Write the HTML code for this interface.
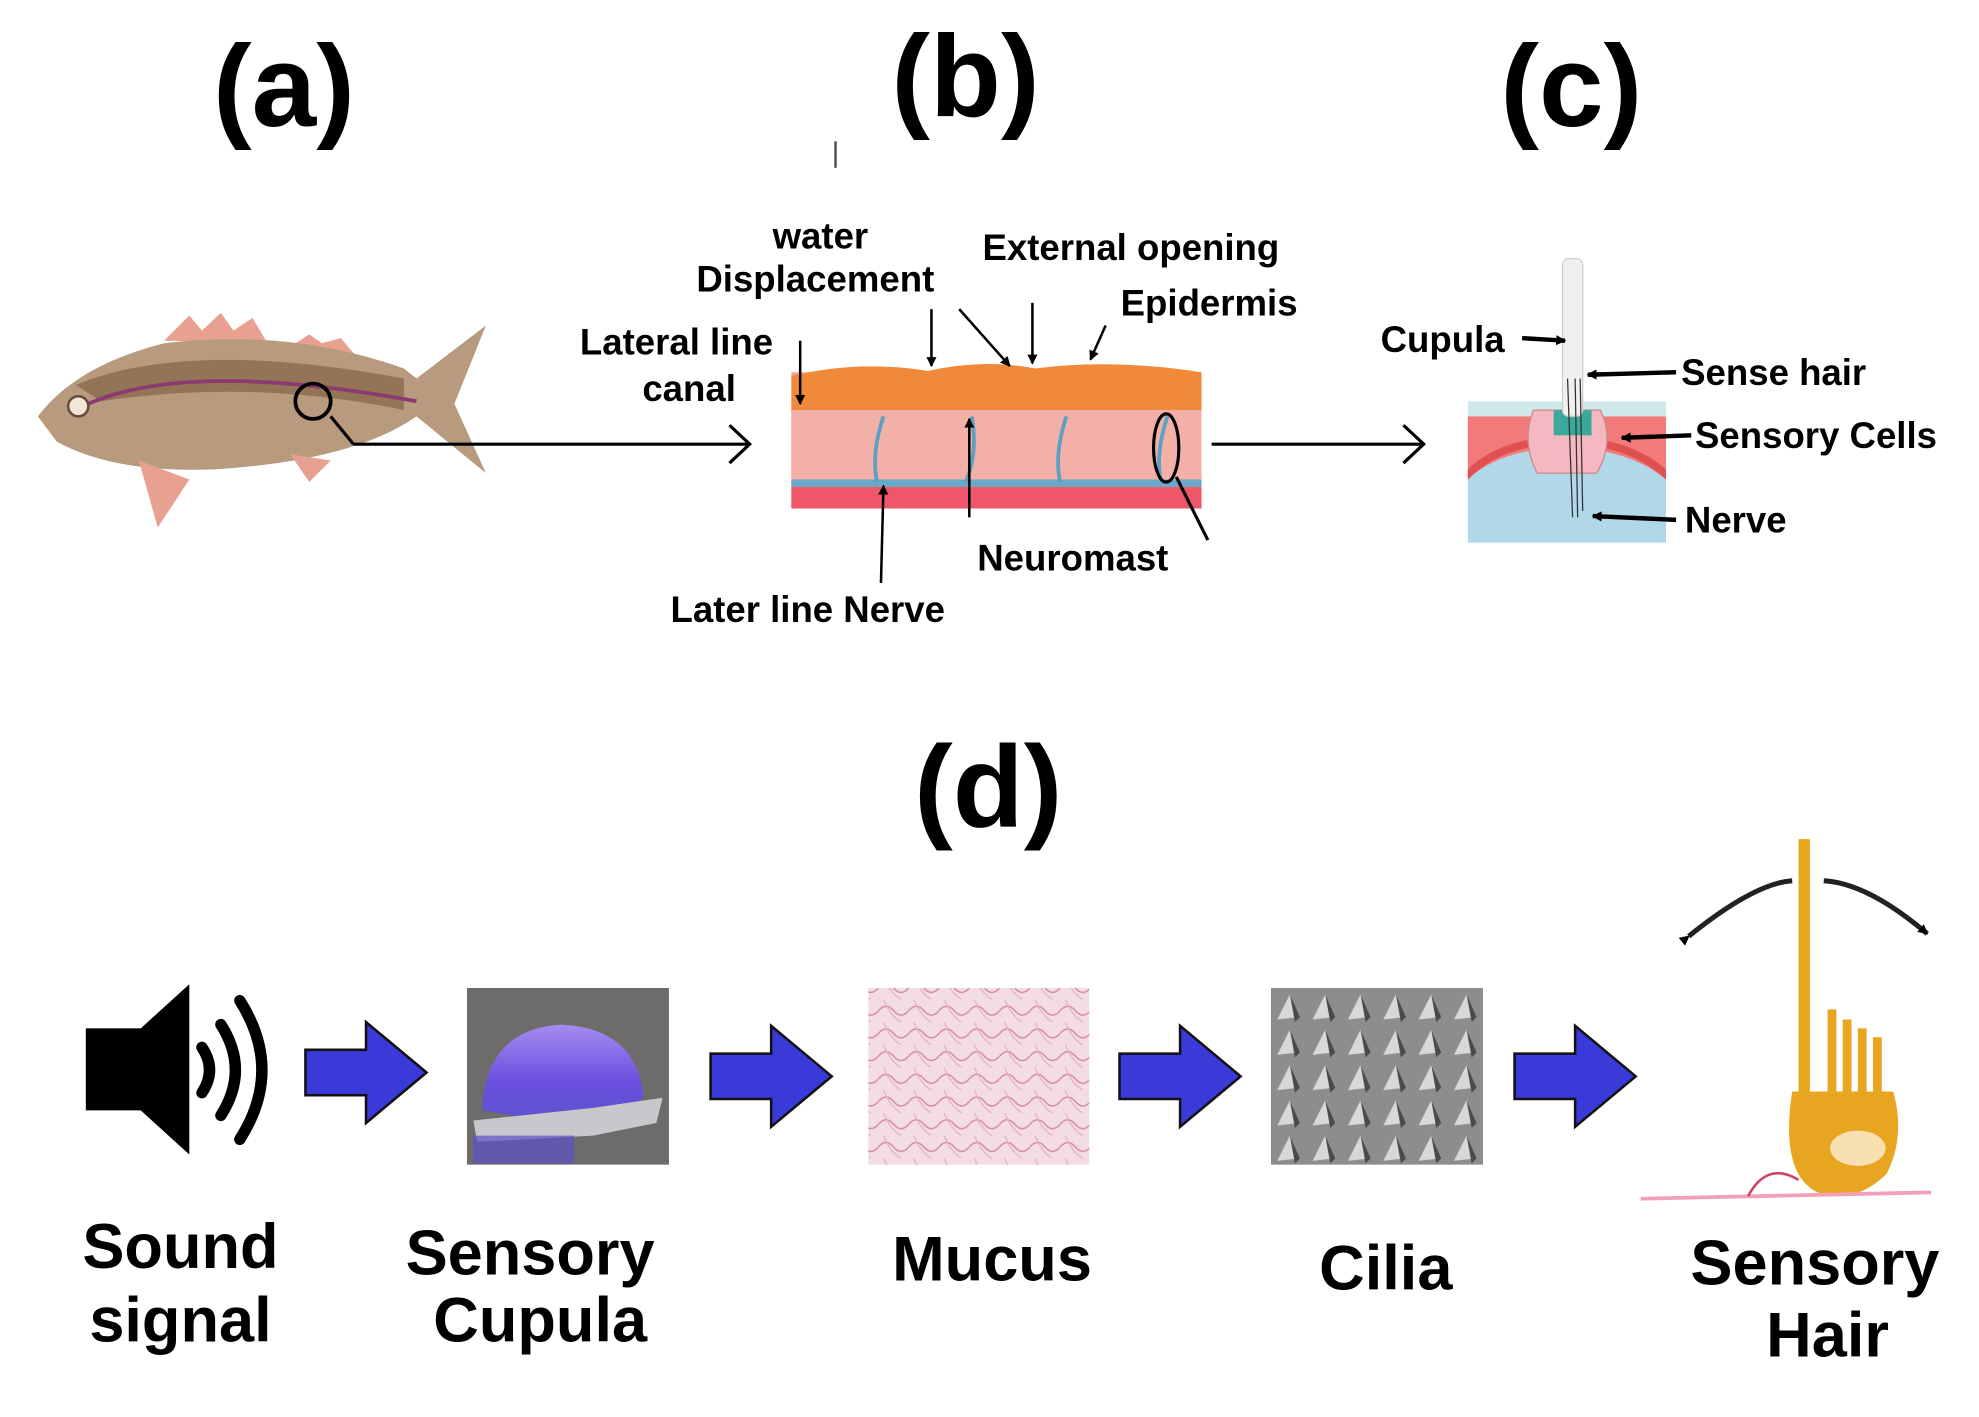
<!DOCTYPE html>
<html><head><meta charset="utf-8"><style>
html,body{margin:0;padding:0;background:#fff}
svg{display:block}
text{font-family:"Liberation Sans",sans-serif;font-weight:bold;fill:#000}
</style></head><body>
<svg width="1979" height="1417" viewBox="0 0 1568 1123" preserveAspectRatio="none" xmlns="http://www.w3.org/2000/svg">
<defs>
<marker id="ah" markerWidth="8" markerHeight="8" refX="7" refY="4" orient="auto" markerUnits="userSpaceOnUse"><path d="M0,0 L8,4 L0,8 z" fill="#000"/></marker>
<linearGradient id="cup" x1="0" y1="0" x2="0" y2="1"><stop offset="0" stop-color="#a58cf0"/><stop offset="0.55" stop-color="#6a4fe0"/><stop offset="1" stop-color="#5a55c8"/></linearGradient>
<pattern id="muc" width="24" height="18" patternUnits="userSpaceOnUse"><rect width="24" height="18" fill="#f3dde3"/><path d="M0,9 Q6,2 12,9 T24,9" stroke="#d78aa3" fill="none" stroke-width="1.2"/><path d="M4,0 Q10,14 18,18" stroke="#e6b0c0" fill="none"/></pattern>
<pattern id="cil" width="28" height="28" patternUnits="userSpaceOnUse"><rect width="28" height="28" fill="#8d8d8d"/><path d="M4,24 L14,4 L22,22 z" fill="#d8d8d8"/><path d="M14,4 L22,22 L18,26 z" fill="#4a4a4a"/></pattern>
</defs>

<!-- panel labels -->
<text x="225" y="100" font-size="92" text-anchor="middle">(a)</text>
<text x="765" y="92" font-size="92" text-anchor="middle">(b)</text>
<text x="1245" y="100" font-size="92" text-anchor="middle">(c)</text>
<text x="783" y="655" font-size="92" text-anchor="middle">(d)</text>
<line x1="662" y1="112" x2="662" y2="133" stroke="#555" stroke-width="2"/>

<!-- fish -->
<g>
<path d="M130,270 L150,250 L160,262 L175,248 L185,262 L200,252 L212,272 Z" fill="#e8a090"/>
<path d="M230,275 L245,265 L255,272 L270,268 L282,282 Z" fill="#e8a090"/>
<path d="M30,330 Q60,290 130,272 Q230,260 320,292 L330,300 L385,258 L360,320 L385,375 L330,330 Q280,365 170,372 Q90,375 45,350 Z" fill="#b89a7e"/>
<path d="M60,305 Q150,268 320,300 L320,325 Q200,300 80,318 Z" fill="#8a6a4e" opacity="0.8"/>
<path d="M70,320 Q150,285 330,318" stroke="#8a3a70" stroke-width="3" fill="none"/>
<circle cx="62" cy="322" r="8" fill="#f2e6d8" stroke="#6a4a3a" stroke-width="2"/>
<path d="M110,365 L125,418 L150,380 Z" fill="#e8a090"/>
<path d="M230,360 L245,382 L262,365 Z" fill="#e8a090"/>
<circle cx="248" cy="318" r="14" fill="none" stroke="#000" stroke-width="3"/>
</g>
<line x1="262" y1="330" x2="280" y2="352" stroke="#000" stroke-width="2.5"/>
<path d="M280,352 L594,352 M578,337 L594,352 L578,367" stroke="#000" stroke-width="2.5" fill="none"/>

<!-- b cross section -->
<rect x="627" y="295" width="325" height="108" fill="#f5a98f"/>
<path d="M627,298 Q680,285 735,294 Q780,284 820,292 Q880,284 952,295 L952,325 L627,325 Z" fill="#f08a3a"/>
<rect x="627" y="325" width="325" height="55" fill="#f2b0a8"/>
<rect x="627" y="380" width="325" height="6" fill="#6aa8c8"/>
<rect x="627" y="386" width="325" height="17" fill="#f0566a"/>
<path d="M700,330 Q690,360 695,382 M770,330 Q775,360 765,382 M845,330 Q835,360 840,382 M925,330 Q915,360 920,382" stroke="#5ea0c0" stroke-width="3" fill="none"/>
<ellipse cx="924" cy="355" rx="10" ry="27" fill="none" stroke="#000" stroke-width="2.5"/>
<line x1="932" y1="378" x2="957" y2="428" stroke="#000" stroke-width="2.5"/>
<g stroke="#000" stroke-width="2" fill="none" marker-end="url(#ah)">
<line x1="634" y1="270" x2="634" y2="320"/>
<line x1="738" y1="245" x2="738" y2="290"/>
<line x1="760" y1="245" x2="800" y2="290"/>
<line x1="818" y1="240" x2="818" y2="288"/>
<line x1="876" y1="258" x2="864" y2="285"/>
<line x1="768" y1="410" x2="768" y2="332"/>
<line x1="698" y1="462" x2="700" y2="385"/>
</g>
<text x="650" y="197" font-size="29" text-anchor="middle">water</text>
<text x="646" y="231" font-size="29" text-anchor="middle">Displacement</text>
<text x="896" y="206" font-size="29" text-anchor="middle">External opening</text>
<text x="958" y="250" font-size="29" text-anchor="middle">Epidermis</text>
<text x="536" y="281" font-size="29" text-anchor="middle">Lateral line</text>
<text x="546" y="318" font-size="29" text-anchor="middle">canal</text>
<text x="850" y="452" font-size="29" text-anchor="middle">Neuromast</text>
<text x="640" y="493" font-size="29" text-anchor="middle">Later line Nerve</text>
<path d="M960,352 L1128,352 M1112,337 L1128,352 L1112,367" stroke="#000" stroke-width="2.5" fill="none"/>

<!-- c -->
<rect x="1163" y="318" width="157" height="12" fill="#cfe8ec"/>
<rect x="1163" y="330" width="157" height="50" fill="#f27a7a"/>
<path d="M1163,380 L1163,430 L1320,430 L1320,380 Q1290,355 1240,355 Q1190,355 1163,380 Z" fill="#b0d8e8"/>
<path d="M1163,380 Q1190,352 1240,352 Q1290,352 1320,380 L1320,372 Q1290,346 1240,346 Q1190,346 1163,372 Z" fill="#e05050"/>
<path d="M1215,325 Q1205,350 1218,375 L1265,375 Q1280,350 1268,325 Z" fill="#f5b8c0" stroke="#c88" stroke-width="1"/>
<rect x="1231" y="325" width="30" height="20" fill="#3aa89a"/>
<rect x="1238" y="205" width="16" height="125" rx="5" fill="#f2f0ee" stroke="#ccc"/>
<path d="M1242,300 L1246,410 M1248,300 L1250,410 M1252,300 L1254,405" stroke="#333" stroke-width="1"/>
<g stroke="#000" stroke-width="3.5" fill="none" marker-end="url(#ah)">
<line x1="1206" y1="268" x2="1240" y2="270"/>
<line x1="1328" y1="295" x2="1258" y2="297"/>
<line x1="1340" y1="345" x2="1285" y2="347"/>
<line x1="1328" y1="412" x2="1262" y2="409"/>
</g>
<text x="1143" y="279" font-size="29" text-anchor="middle">Cupula</text>
<text x="1332" y="305" font-size="29">Sense hair</text>
<text x="1343" y="355" font-size="29">Sensory Cells</text>
<text x="1335" y="422" font-size="29">Nerve</text>

<!-- d -->
<rect x="68" y="815" width="60" height="65" fill="#000"/>
<path d="M95,830 L150,780 L150,915 L95,865 Z" fill="#000"/>
<g stroke="#000" stroke-width="9" fill="none" stroke-linecap="round">
<path d="M160,830 Q172,848 160,866"/>
<path d="M175,812 Q198,848 175,884"/>
<path d="M190,793 Q225,848 190,903"/>
</g>
<g fill="#3a3ad8" stroke="#111" stroke-width="2">
<path d="M242,832 L290,832 L290,810 L338,850 L290,890 L290,868 L242,868 Z"/>
<path d="M563,835 L611,835 L611,813 L659,853 L611,893 L611,871 L563,871 Z"/>
<path d="M887,835 L935,835 L935,813 L983,853 L935,893 L935,871 L887,871 Z"/>
<path d="M1200,835 L1248,835 L1248,813 L1296,853 L1248,893 L1248,871 L1200,871 Z"/>
</g>
<rect x="370" y="783" width="160" height="140" fill="#6e6c6a"/>
<path d="M382,880 Q385,815 445,812 Q505,815 510,870 L470,895 Z" fill="url(#cup)"/>
<path d="M375,888 L470,878 L525,870 L520,890 L470,900 L378,905 Z" fill="#c8c8cc"/>
<rect x="375" y="900" width="80" height="22" fill="#5a50c8" opacity="0.7"/>
<rect x="688" y="783" width="175" height="140" fill="url(#muc)"/>
<rect x="1007" y="783" width="168" height="140" fill="url(#cil)"/>
<!-- sensory hair cell -->
<path d="M1338,742 Q1390,700 1420,698" stroke="#222" stroke-width="4" fill="none" marker-start="url(#ah)"/>
<path d="M1445,698 Q1480,700 1527,740" stroke="#222" stroke-width="4" fill="none" marker-end="url(#ah)"/>
<g fill="#e8a520">
<rect x="1425" y="665" width="9" height="230"/>
<rect x="1448" y="800" width="7" height="70"/>
<rect x="1460" y="808" width="7" height="62"/>
<rect x="1472" y="815" width="7" height="55"/>
<rect x="1484" y="822" width="7" height="48"/>
<path d="M1420,865 L1500,865 Q1510,900 1495,930 Q1470,955 1440,945 Q1410,930 1420,865 Z"/>
</g>
<ellipse cx="1472" cy="910" rx="22" ry="14" fill="#f8e0b0"/>
<path d="M1300,950 L1530,945" stroke="#f2a0b8" stroke-width="3"/>
<path d="M1425,935 Q1400,920 1385,948" stroke="#d04060" stroke-width="2" fill="none"/>
<text x="143" y="1005" font-size="50" text-anchor="middle">Sound</text>
<text x="143" y="1063" font-size="50" text-anchor="middle">signal</text>
<text x="420" y="1010" font-size="50" text-anchor="middle">Sensory</text>
<text x="428" y="1063" font-size="50" text-anchor="middle">Cupula</text>
<text x="786" y="1015" font-size="50" text-anchor="middle">Mucus</text>
<text x="1098" y="1022" font-size="50" text-anchor="middle">Cilia</text>
<text x="1438" y="1018" font-size="50" text-anchor="middle">Sensory</text>
<text x="1448" y="1075" font-size="50" text-anchor="middle">Hair</text>
</svg>
</body></html>
